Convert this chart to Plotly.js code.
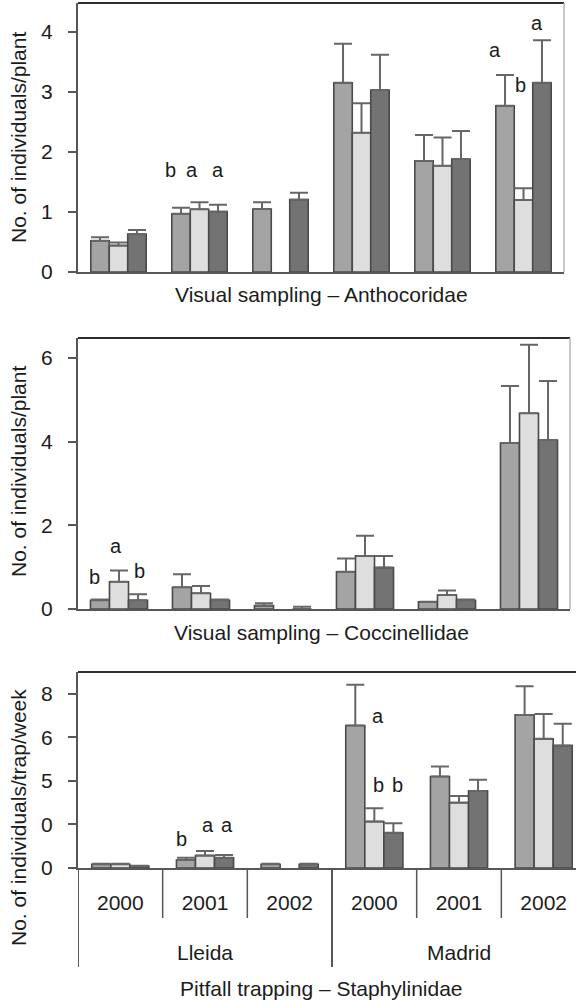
<!DOCTYPE html>
<html>
<head>
<meta charset="utf-8">
<script src="https://cdn.plot.ly/plotly-3.0.1.min.js"></script>
<style>
  html, body { margin: 0; padding: 0; overflow: hidden; background: #fff; }
  #chart { width: 590px; height: 1000px; }
</style>
</head>
<body>
<div id="chart"></div>
<script>
// Groups along the x axis: three years at each of two sites
const years = ['2000', '2001', '2002', '2000', '2001', '2002'];
const sites = ['Lleida', 'Madrid'];
const groupIndex = [0, 1, 2, 3, 4, 5];

// Visual sampling – Anthocoridae (individuals/plant), mean and upper SE
const anthoMid = [0.52, 0.97, 1.05, 3.15, 1.85, 2.77];
const anthoMidErr = [0.06, 0.10, 0.11, 0.65, 0.43, 0.51];
const anthoLight = [0.44, 1.045, null, 2.32, 1.77, 1.20];
const anthoLightErr = [0.05, 0.115, null, 0.49, 0.47, 0.195];
const anthoDark = [0.63, 1.005, 1.205, 3.03, 1.88, 3.15];
const anthoDarkErr = [0.07, 0.115, 0.115, 0.59, 0.47, 0.71];

// Visual sampling – Coccinellidae (individuals/plant)
const cocciMid = [0.21, 0.52, 0.08, 0.89, 0.175, 3.97];
const cocciMidErr = [0.02, 0.31, 0.055, 0.32, 0.0, 1.36];
const cocciLight = [0.65, 0.375, null, 1.27, 0.335, 4.68];
const cocciLightErr = [0.27, 0.175, null, 0.48, 0.105, 1.64];
const cocciDark = [0.21, 0.21, 0.0, 0.99, 0.21, 4.04];
const cocciDarkErr = [0.14, 0.02, 0.055, 0.28, 0.02, 1.41];

// Pitfall trapping – Staphylinidae (individuals/trap/week)
const staphMid = [0.17, 0.37, 0.17, 6.54, 4.20, 7.03];
const staphMidErr = [0.02, 0.10, 0.02, 1.87, 0.46, 1.31];
const staphLight = [0.17, 0.57, null, 2.13, 3.00, 5.93];
const staphLightErr = [0.02, 0.21, null, 0.61, 0.31, 1.14];
const staphDark = [0.09, 0.47, 0.17, 1.62, 3.54, 5.62];
const staphDarkErr = [0.01, 0.13, 0.02, 0.43, 0.51, 1.00];

// Tick labels printed on each value axis
const anthoTicks = [0, 1, 2, 3, 4];
const cocciTicks = [0, 2, 4, 6];
const staphTickVals = [0, 2, 4, 6, 8];
const staphTickText = ['0', '0', '5', '6', '8'];

// Significance letters: [x position, y value, letter]
const anthoLetters = [[0.636, 1.70, 'b'], [0.907, 1.70, 'a'], [1.228, 1.70, 'a'],
                      [4.648, 3.69, 'a'], [4.957, 3.12, 'b'], [5.167, 4.15, 'a']];
const cocciLetters = [[-0.293, 0.77, 'b'], [-0.037, 1.51, 'a'], [0.244, 0.91, 'b']];
const staphLetters = [[0.728, 1.33, 'b'], [1.035, 1.98, 'a'], [1.26, 1.98, 'a'],
                      [3.047, 6.99, 'a'], [3.047, 3.82, 'b'], [3.27, 3.82, 'b']];

const FONT = '"Liberation Sans", Arial, Helvetica, sans-serif';
const TXT = '#1c1c1c';
const AX = '#575757';
const fills = ['#a4a4a4', '#dedede', '#737373'];
const W = 590, H = 1000;

function px(x) { return x / W; }
function py(y) { return (H - y) / H; }

const traces = [];
function addPanel(xa, ya, series, errs, barWidth) {
  const offs = [-1.5 * barWidth, -0.5 * barWidth, 0.5 * barWidth];
  series.forEach((vals, k) => {
    traces.push({
      type: 'bar',
      x: groupIndex,
      y: vals,
      xaxis: xa, yaxis: ya,
      width: barWidth,
      offset: offs[k],
      marker: { color: fills[k], line: { color: '#4a4a4a', width: 1.6 } },
      error_y: {
        type: 'data', symmetric: false,
        array: errs[k],
        arrayminus: errs[k].map(() => 0),
        color: '#666666', thickness: 2, width: 9
      },
      showlegend: false,
      hoverinfo: 'skip'
    });
  });
}

addPanel('x', 'y', [anthoMid, anthoLight, anthoDark], [anthoMidErr, anthoLightErr, anthoDarkErr], 0.228);
addPanel('x2', 'y2', [cocciMid, cocciLight, cocciDark], [cocciMidErr, cocciLightErr, cocciDarkErr], 0.232);
addPanel('x3', 'y3', [staphMid, staphLight, staphDark], [staphMidErr, staphLightErr, staphDarkErr], 0.225);

const baseX = {
  range: [-0.5, 5.5], showgrid: false, zeroline: false,
  showline: true, linecolor: AX, linewidth: 2,
  ticks: '', fixedrange: true
};
const baseY = {
  showgrid: false, zeroline: false,
  showline: true, linecolor: AX, linewidth: 2,
  ticks: 'outside', ticklen: 8, tickwidth: 2, tickcolor: AX,
  tickfont: { family: FONT, size: 21, color: TXT },
  ticklabelstandoff: 11
};

const annotations = [];
function letters(list, xa, ya) {
  list.forEach(([x, y, t]) => annotations.push({
    xref: xa, yref: ya, x: x, y: y, text: t, showarrow: false,
    font: { family: FONT, size: 20, color: TXT }, xanchor: 'center', yanchor: 'middle'
  }));
}
letters(anthoLetters, 'x', 'y');
letters(cocciLetters, 'x2', 'y2');
letters(staphLetters, 'x3', 'y3');

function paperText(x, y, text, angle) {
  annotations.push({
    xref: 'paper', yref: 'paper', x: px(x), y: py(y), text: text, showarrow: false,
    textangle: angle || 0, xanchor: 'center', yanchor: 'middle',
    font: { family: FONT, size: 21, color: TXT }
  });
}
paperText(321, 294, 'Visual sampling – Anthocoridae');
paperText(322, 632, 'Visual sampling – Coccinellidae');
paperText(321, 988, 'Pitfall trapping – Staphylinidae');
paperText(18, 138, 'No. of individuals/plant', -90);
paperText(18, 472, 'No. of individuals/plant', -90);
paperText(18, 818, 'No. of individuals/trap/week', -90);

// Site names under the year labels
[[1, sites[0]], [4, sites[1]]].forEach(([x, t]) => annotations.push({
  xref: 'x3', yref: 'paper', x: x, y: py(952), text: t, showarrow: false,
  xanchor: 'center', yanchor: 'middle', font: { family: FONT, size: 21, color: TXT }
}));

const shapes = [];
// Frame: dark top edge and pale right edge on the upper two panels, dark top on the lower
[['x', 'y', true], ['x2', 'y2', true], ['x3', 'y3', false]].forEach(([xa, ya, right]) => {
  shapes.push({ type: 'line', xref: xa + ' domain', yref: ya + ' domain', x0: 0, x1: 1, y0: 1, y1: 1,
                line: { color: '#2e2e2e', width: 2 } });
  if (right) shapes.push({ type: 'line', xref: xa + ' domain', yref: ya + ' domain', x0: 1, x1: 1, y0: 0, y1: 1,
                line: { color: '#b4b4b4', width: 1.5 } });
});
// Category dividers below the lower panel
[0.5, 1.5, 3.5, 4.5].forEach(x => shapes.push({
  type: 'line', xref: 'x3', yref: 'paper', x0: x, x1: x, y0: py(868), y1: py(918),
  line: { color: AX, width: 1.5 }
}));
[-0.5, 2.5].forEach(x => shapes.push({
  type: 'line', xref: 'x3', yref: 'paper', x0: x, x1: x, y0: py(868), y1: py(967),
  line: { color: AX, width: 2 }
}));

const layout = {
  width: W, height: H,
  margin: { l: 0, r: 0, t: 0, b: 0 },
  paper_bgcolor: '#fff', plot_bgcolor: '#fff',
  barmode: 'group',
  showlegend: false,
  font: { family: FONT, color: TXT },
  xaxis: Object.assign({}, baseX, { domain: [px(78), px(564)], anchor: 'y', showticklabels: false }),
  yaxis: Object.assign({}, baseY, { domain: [py(272), py(3)], anchor: 'x', range: [0, 4.48], tickvals: anthoTicks }),
  xaxis2: Object.assign({}, baseX, { domain: [px(78), px(570)], anchor: 'y2', showticklabels: false }),
  yaxis2: Object.assign({}, baseY, { domain: [py(609), py(338)], anchor: 'x2', range: [0, 6.48], tickvals: cocciTicks }),
  xaxis3: Object.assign({}, baseX, {
    domain: [px(78), px(586)], anchor: 'y3',
    tickvals: groupIndex, ticktext: years,
    tickfont: { family: FONT, size: 21, color: TXT }, ticklabelstandoff: 15
  }),
  yaxis3: Object.assign({}, baseY, { domain: [py(868), py(672)], anchor: 'x3', range: [0, 9.0],
    tickvals: staphTickVals, ticktext: staphTickText }),
  annotations: annotations,
  shapes: shapes
};

Plotly.newPlot('chart', traces, layout, { staticPlot: true, displayModeBar: false });
</script>
</body>
</html>
